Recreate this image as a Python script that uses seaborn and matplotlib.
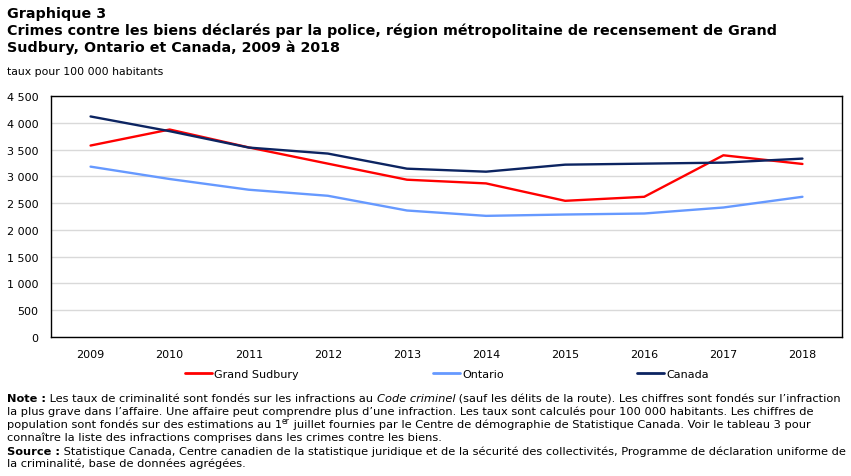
import numpy as np
import pandas as pd
import seaborn as sns
import matplotlib.pyplot as plt
from matplotlib.ticker import FuncFormatter, MultipleLocator

# data
annees = [2009, 2010, 2011, 2012, 2013, 2014, 2015, 2016, 2017, 2018]
grand_sudbury = [3575, 3874, 3540, 3237, 2937, 2868, 2543, 2618, 3393, 3231]
ontario = [3181, 2950, 2750, 2637, 2362, 2262, 2287, 2306, 2418, 2618]
canada = [4118, 3843, 3537, 3425, 3143, 3087, 3218, 3237, 3256, 3331]

series = ["Grand Sudbury", "Ontario", "Canada"]
couleurs = ["#ff0000", "#6699ff", "#0c2461"]

df = pd.DataFrame({
    "annee": annees * 3,
    "taux": grand_sudbury + ontario + canada,
    "serie": [s for s in series for _ in annees],
})

sns.set_style("white")
plt.rcParams["font.family"] = ["DejaVu Sans"]
plt.rcParams["text.color"] = "black"

W, H = 851, 477
fig = plt.figure(figsize=(W / 100, H / 100), dpi=100)
ax = fig.add_axes([51 / W, 1 - 338 / H, 791 / W, 241 / H])

sns.lineplot(data=df, x="annee", y="taux", hue="serie", hue_order=series,
             palette=couleurs, linewidth=1.7, ax=ax, legend=False)

ax.set_xlim(annees[0] - 0.5, annees[-1] + 0.5)
ax.set_ylim(0, 4500)
ax.yaxis.set_major_locator(MultipleLocator(500))
ax.yaxis.set_major_formatter(FuncFormatter(lambda v, p: f"{int(v):,}".replace(",", " ")))
ax.set_xticks(annees)
ax.set_xticklabels([str(a) for a in annees])
ax.set_xticks([a + 0.5 for a in annees[:-1]], minor=True)
ax.tick_params(axis="x", which="major", length=0, pad=9)
ax.tick_params(axis="x", which="minor", length=5, direction="in", width=0.8, color="black")
ax.tick_params(axis="y", length=0, pad=9)
for lab in ax.get_xticklabels() + ax.get_yticklabels():
    lab.set_fontsize(8)
    lab.set_color("black")
ax.grid(axis="y", color="#d9d9d9", linewidth=1)
ax.set_axisbelow(True)
for sp in ax.spines.values():
    sp.set_visible(True)
    sp.set_color("black")
    sp.set_linewidth(1)
ax.set_xlabel("")
ax.set_ylabel("")

# legend, one entry at a time to match the spacing
lines = ax.get_lines()
pos_leg = [185, 433, 637]
for ln, nom, x0 in zip(lines[:3], series, pos_leg):
    fig.legend(handles=[plt.Line2D([], [], color=ln.get_color(), linewidth=2)],
               labels=[nom], loc="center left", bbox_to_anchor=(x0 / W, 1 - 375 / H),
               frameon=False, fontsize=8, handlelength=2.4, handletextpad=0.2,
               borderpad=0, borderaxespad=0, labelcolor="black")

# titles
titre = ["Graphique 3",
         "Crimes contre les biens déclarés par la police, région métropolitaine de recensement de Grand",
         "Sudbury, Ontario et Canada, 2009 à 2018"]
for t, y in zip(titre, [14, 31, 48]):
    fig.text(7 / W, 1 - y / H, t, fontsize=10.3, fontweight="bold", va="center")
fig.text(7 / W, 1 - 72 / H, "taux pour 100 000 habitants", fontsize=7.8, va="center")

# notes: segments drawn one after the other (bold / italic / superscript)
renderer = fig.canvas.get_renderer()
fs = 8.2


def ligne(y, morceaux):
    x = 7
    for txt, kw in morceaux:
        dy = kw.pop("dy", 0)
        t = fig.text(x / W, 1 - (y - dy) / H, txt, va="baseline",
                     fontsize=kw.pop("size", fs), **kw)
        x += t.get_window_extent(renderer).width


ligne(402, [("Note :", {"fontweight": "bold"}),
            (" Les taux de criminalité sont fondés sur les infractions au ", {}),
            ("Code criminel", {"fontstyle": "italic"}),
            (" (sauf les délits de la route). Les chiffres sont fondés sur l’infraction", {})])
ligne(415, [("la plus grave dans l’affaire. Une affaire peut comprendre plus d’une infraction. "
             "Les taux sont calculés pour 100 000 habitants. Les chiffres de", {})])
ligne(428, [("population sont fondés sur des estimations au 1", {}),
            ("er", {"size": 5.5, "dy": 4}),
            (" juillet fournies par le Centre de démographie de Statistique Canada. "
             "Voir le tableau 3 pour", {})])
ligne(441, [("connaître la liste des infractions comprises dans les crimes contre les biens.", {})])
ligne(455, [("Source :", {"fontweight": "bold"}),
            (" Statistique Canada, Centre canadien de la statistique juridique et de la sécurité "
             "des collectivités, Programme de déclaration uniforme de", {})])
ligne(467, [("la criminalité, base de données agrégées.", {})])

fig.savefig("out.png", dpi=100)
